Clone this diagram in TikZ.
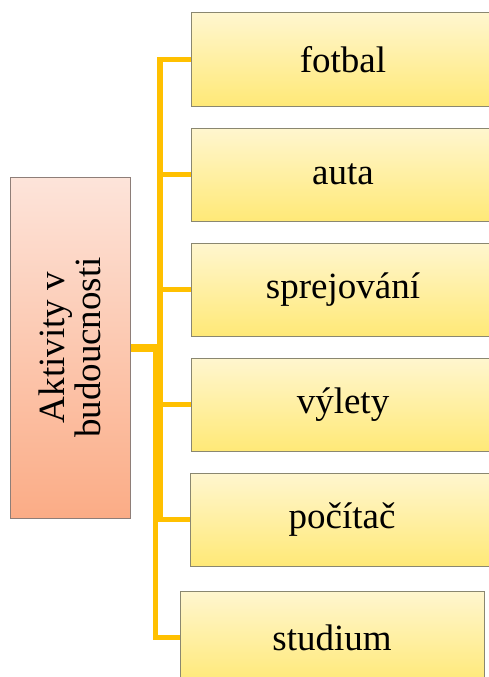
\documentclass[tikz,border=0pt]{standalone}
\usepackage{fontspec}
\setmainfont{Liberation Serif}
\begin{document}
\begin{tikzpicture}[x=1pt,y=-1pt,
  ybox/.style={draw=boxgray, line width=1pt, top color=ytop, bottom color=ybot,
    minimum width=304pt, minimum height=93pt, inner sep=0pt, font=\fontsize{37}{37}\selectfont},
  lbox/.style={draw=lgray, line width=1pt, top color=ltop, bottom color=lbot,
    minimum width=120pt, minimum height=341pt, inner sep=0pt},
  conn/.style={draw=conncol, line width=5.5pt}]
\definecolor{ytop}{HTML}{FFF6CF}
\definecolor{ybot}{HTML}{FFE977}
\definecolor{boxgray}{HTML}{8A8770}
\definecolor{ltop}{HTML}{FDE4DA}
\definecolor{lbot}{HTML}{FBAC86}
\definecolor{lgray}{HTML}{8E7E78}
\definecolor{conncol}{HTML}{FFC000}
\useasboundingbox (0,0) rectangle (489,677);
\clip (0,0) rectangle (489,677);
% left box
\node[lbox] (L) at (70,347.5) {};
\node[rotate=90, align=center, inner sep=0pt, font=\fontsize{37}{36}\selectfont] (Lt) at (L.center) {Aktivity v\\budoucnosti};
% right boxes
\node[ybox] (f1) at (343,59.5) {fotbal};
\node[ybox] (f2) at (343,174.5) {auta};
\node[ybox] (f3) at (343,289.5) {sprejování};
\node[ybox] (f4) at (343,404.5) {výlety};
\node[ybox] (f5) at (342,519.5) {počítač};
\node[ybox] (f6) at (332,637.5) {studium};
% junction coordinates
\coordinate (j1) at (160,347.5);
\coordinate (j2) at (155.5,347.5);
% connectors
\draw[conn, line width=8pt] (L.east) -- (j1);
\draw[conn] (f1.west) -| (j1);
\draw[conn] (f2.west) -| (j1);
\draw[conn] (f3.west) -| (j1);
\draw[conn] (f4.west) -| (j1);
\draw[conn] (f5.west) -| (j1);
\draw[conn] (f6.west) -| (j2);
\end{tikzpicture}
\end{document}
